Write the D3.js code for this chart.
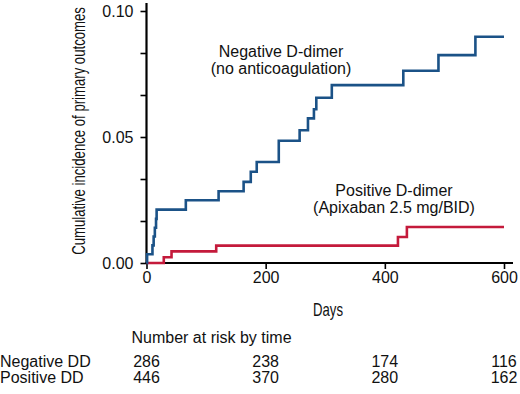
<!DOCTYPE html>
<html>
<head>
<meta charset="utf-8">
<script src="https://cdn.jsdelivr.net/npm/d3@7"></script>
<style>
  body { margin: 0; background: #fff; }
  svg { display: block; font-family: "Liberation Sans", Arial, sans-serif; }
</style>
</head>
<body>
<svg id="chart" width="520" height="394"></svg>
<script>
// Negative D-dimer (no anticoagulation) - step points
const negDays = [0, 1, 10, 12, 14, 16, 17, 66, 121, 163, 175, 185, 222, 257, 271, 281, 285, 311, 431, 490, 552, 600];
const negVals = [0, 0.0035, 0.007, 0.0105, 0.014, 0.0175, 0.0212, 0.0249, 0.0285, 0.0322, 0.0362, 0.0401, 0.0485, 0.0527, 0.0574, 0.061, 0.0656, 0.0706, 0.0763, 0.0825, 0.0898, 0.0898];
// Positive D-dimer (Apixaban 2.5 mg/BID)
const posDays = [0, 29, 42, 117, 422, 437, 600];
const posVals = [0, 0.0023, 0.0046, 0.0069, 0.0103, 0.0143, 0.0143];

const xTicks = [0, 200, 400, 600];
const yTicks = [0, 0.1/6, 0.2/6, 0.05, 0.4/6, 0.5/6, 0.1];
const yLabeled = [0, 0.05, 0.1];

const riskGroups = ['Negative DD', 'Positive DD'];
const riskNeg = [286, 238, 174, 116];
const riskPos = [446, 370, 280, 162];

const blue = '#1b5287';
const red = '#c41a3b';

const svg = d3.select('#chart');

const x = d3.scaleLinear().domain([0, 600]).range([146.5, 504]);
const y = d3.scaleLinear().domain([0, 0.1]).range([263, 11]);

// y axis
const yAxis = d3.axisLeft(y)
    .tickValues(yTicks)
    .tickSize(6)
    .tickPadding(7)
    .tickFormat(d => yLabeled.some(v => Math.abs(v - d) < 1e-9) ? d3.format('.2f')(d) : '');
const gy = svg.append('g')
    .attr('transform', `translate(${x(0)},0)`)
    .call(yAxis);
gy.select('.domain').remove();
gy.selectAll('line').attr('stroke', '#000').attr('stroke-width', 1.6);
gy.selectAll('text').attr('font-size', 16).attr('fill', '#111')
    .attr('font-family', '"Liberation Sans", Arial, sans-serif');

// x axis
const xAxis = d3.axisBottom(x)
    .tickValues(xTicks)
    .tickSize(6)
    .tickPadding(3)
    .tickFormat(d3.format('d'));
const gx = svg.append('g')
    .attr('transform', `translate(0,${y(0)})`)
    .call(xAxis);
gx.select('.domain').remove();
gx.selectAll('line').attr('stroke', '#000').attr('stroke-width', 1.6);
gx.selectAll('text').attr('font-size', 16).attr('fill', '#111')
    .attr('font-family', '"Liberation Sans", Arial, sans-serif');

// axis lines
svg.append('line')
    .attr('x1', x(0)).attr('x2', x(0))
    .attr('y1', 3).attr('y2', y(0) + 1)
    .attr('stroke', '#000').attr('stroke-width', 2.2);
svg.append('line')
    .attr('x1', x(0) - 1).attr('x2', 513)
    .attr('y1', y(0)).attr('y2', y(0))
    .attr('stroke', '#000').attr('stroke-width', 2.2);

// curves
const line = d3.line()
    .x(d => x(d[0]))
    .y(d => y(d[1]))
    .curve(d3.curveStepAfter);

svg.append('path')
    .datum(posDays.map((d, i) => [d, posVals[i]]))
    .attr('fill', 'none')
    .attr('stroke', red)
    .attr('stroke-width', 2.6)
    .attr('d', line);

svg.append('path')
    .datum(negDays.map((d, i) => [d, negVals[i]]))
    .attr('fill', 'none')
    .attr('stroke', blue)
    .attr('stroke-width', 2.6)
    .attr('d', line);

// curve labels
const labels = [
    { t: 'Negative D-dimer', cx: 281, by: 57 },
    { t: '(no anticoagulation)', cx: 281, by: 74 },
    { t: 'Positive D-dimer', cx: 394, by: 196 },
    { t: '(Apixaban 2.5 mg/BID)', cx: 394, by: 213 }
];
svg.selectAll('.clabel')
    .data(labels)
    .enter().append('text')
    .attr('class', 'clabel')
    .attr('x', d => d.cx)
    .attr('y', d => d.by)
    .attr('text-anchor', 'middle')
    .attr('font-size', 16)
    .attr('fill', '#111')
    .text(d => d.t);

// condensed axis titles: squeeze horizontally with a scale
function condensed(txt, cx, cy, rot, width) {
    const t = svg.append('text')
        .attr('text-anchor', 'middle')
        .attr('font-family', '"Liberation Sans", Arial, sans-serif')
        .attr('font-size', 18)
        .attr('fill', '#111')
        .text(txt);
    const natural = t.node().getComputedTextLength();
    t.attr('transform', `translate(${cx},${cy}) rotate(${rot}) scale(${width / natural},1)`);
}
condensed('Cumulative incidence of primary outcomes', 85, 131, -90, 248);
condensed('Days', 328, 316, 0, 30);

// number at risk table
svg.append('text')
    .attr('x', 131.5)
    .attr('y', 343)
    .attr('font-size', 16)
    .attr('fill', '#111')
    .text('Number at risk by time');

const rows = [riskNeg, riskPos];
const rowY = [367, 383];
rows.forEach((vals, r) => {
    svg.append('text')
        .attr('x', 0)
        .attr('y', rowY[r])
        .attr('font-size', 16)
        .attr('fill', '#111')
        .text(riskGroups[r]);
    svg.selectAll(null)
        .data(vals)
        .enter().append('text')
        .attr('x', (d, i) => x(xTicks[i]))
        .attr('y', rowY[r])
        .attr('text-anchor', 'middle')
        .attr('font-size', 16)
        .attr('fill', '#111')
        .text(d => d);
});
</script>
</body>
</html>
